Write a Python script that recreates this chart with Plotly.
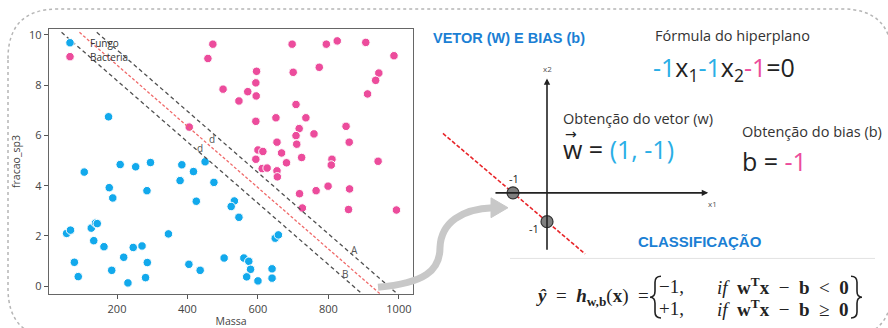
import plotly.graph_objects as go

W, H = 888, 328

# ---------------- data ----------------
fungo_massa = [176, 107, 209, 253, 295, 384, 417, 450, 379, 475, 178, 188, 285, 425, 533, 524, 546,
               57, 68, 127, 139, 144, 134, 163, 346, 219, 246, 271, 286, 79, 90, 185, 231, 281, 404,
               436, 504, 560, 574, 579, 568, 600, 640, 640, 649, 658]
fungo_sp3 = [6.74, 4.54, 4.84, 4.75, 4.92, 4.83, 4.56, 4.95, 4.20, 4.13, 3.92, 3.51, 3.80, 3.38, 3.39, 3.17, 2.74,
             2.10, 2.23, 2.31, 2.51, 2.49, 1.81, 1.57, 2.08, 1.15, 1.54, 1.60, 0.94, 0.95, 0.38, 0.63, 0.13, 0.34, 0.87,
             0.63, 1.12, 1.12, 0.99, 0.67, 0.37, 0.21, 0.69, 0.32, 1.91, 2.04]

bact_massa = [472, 458, 501, 546, 571, 596, 594, 595, 405, 594, 651, 697, 700, 708, 736, 717, 708, 710, 724,
              759, 654, 667, 681, 600, 614, 594, 612, 626, 654, 655, 718, 726, 765, 799, 774, 794, 825, 906,
              986, 943, 934, 911, 850, 859, 810, 808, 860, 857, 941, 993]
bact_sp3 = [9.63, 9.06, 7.84, 7.37, 7.74, 8.55, 8.09, 7.57, 6.33, 6.56, 6.70, 9.63, 8.51, 7.23, 6.70, 6.27, 5.99,
            5.65, 5.12, 6.06, 5.73, 5.30, 4.91, 5.42, 5.36, 5.05, 4.68, 4.70, 4.59, 4.35, 3.68, 3.11, 3.80, 3.98,
            8.71, 9.63, 9.76, 9.70, 9.17, 8.48, 8.19, 7.65, 6.36, 5.73, 5.05, 4.82, 3.87, 3.05, 4.97, 3.03]

# margin / hyperplane lines in the scatter: y = intercept + slope * x
line_slope = -0.0122
line_intercepts = [10.62, 11.24, 11.84]       # lower margin (B), hyperplane, upper margin (A)
line_styles = ["margin", "hyper", "margin"]
line_y_span = [10.1, -0.4]

# small labels on the scatter
label_text = ["d", "d", "A", "B"]
label_x = [469, 436, 875, 847]
label_y = [5.85, 5.5, 1.45, 0.5]

x_ticks = [200, 400, 600, 800, 1000]
y_ticks = [0, 2, 4, 6, 8, 10]

# hyperplane diagram: w1*x1 + w2*x2 + b = 0  ->  -1*x1 - 1*x2 - 1 = 0
w = (-1, -1)
bias = -1
diag_x1_span = [-3.06, 1.12]
diag_axis_x1 = [-1.56, 4.74]
diag_axis_x2 = [-2.03, 3.97]
cross_x1 = [-1, 0]
cross_x2 = [0, -1]

BLUE = "#12a9ec"
PINK = "#ec4c9c"
VAL_BLUE = "#2aaee6"
TITLE_BLUE = "#1b7fd4"
SANS = "Open Sans, Arial, sans-serif"
SERIF = "Liberation Serif, DejaVu Serif, serif"


def px(x):
    return x / W


def py(y):
    return 1 - y / H


fig = go.Figure()

# ---------------- scatter panel ----------------
fig.add_trace(go.Scatter(x=fungo_massa, y=fungo_sp3, mode="markers", name="Fungo", legend="legend",
                         marker=dict(color=BLUE, size=8.5, line=dict(color="white", width=1)),
                         xaxis="x", yaxis="y"))
fig.add_trace(go.Scatter(x=bact_massa, y=bact_sp3, mode="markers", name="Bacteria", legend="legend2",
                         marker=dict(color=PINK, size=8.5, line=dict(color="white", width=1)),
                         xaxis="x", yaxis="y"))

for b0, st in zip(line_intercepts, line_styles):
    ys = line_y_span
    xs = [(yy - b0) / line_slope for yy in ys]
    if st == "hyper":
        ln = dict(color="#f06a6a", width=1.3, dash="3px,2px")
    else:
        ln = dict(color="#505050", width=1.3, dash="4px,3px")
    fig.add_trace(go.Scatter(x=xs, y=ys, mode="lines", line=ln, showlegend=False,
                             hoverinfo="skip", xaxis="x", yaxis="y"))

for t, lx, ly in zip(label_text, label_x, label_y):
    fig.add_annotation(x=lx, y=ly, xref="x", yref="y", text=t, showarrow=False,
                       font=dict(family=SANS, size=10, color="#555555"))

# ---------------- hyperplane diagram ----------------
fig.add_annotation(x=diag_axis_x1[1], y=0, ax=diag_axis_x1[0], ay=0, xref="x2", yref="y2",
                   axref="x2", ayref="y2", text="", showarrow=True, arrowhead=2, arrowsize=0.8,
                   arrowwidth=1.6, arrowcolor="#222222")
fig.add_annotation(x=0, y=diag_axis_x2[1], ax=0, ay=diag_axis_x2[0], xref="x2", yref="y2",
                   axref="x2", ayref="y2", text="", showarrow=True, arrowhead=2, arrowsize=0.8,
                   arrowwidth=1.6, arrowcolor="#222222")
line_x2 = [-(w[0] * v + bias) / w[1] for v in diag_x1_span]
fig.add_trace(go.Scatter(x=diag_x1_span, y=line_x2, mode="lines",
                         line=dict(color="#e8262a", width=1.6, dash="4px,2px"),
                         showlegend=False, hoverinfo="skip", xaxis="x2", yaxis="y2"))
fig.add_trace(go.Scatter(x=cross_x1, y=cross_x2, mode="markers",
                         marker=dict(color="#7f7f7f", size=12, line=dict(color="#333333", width=1.2)),
                         showlegend=False, hoverinfo="skip", xaxis="x2", yaxis="y2"))
fig.add_annotation(x=cross_x1[0], y=cross_x2[0], xref="x2", yref="y2", text="-1", showarrow=False,
                   yshift=14, xshift=1, font=dict(family=SANS, size=11, color="#222"))
fig.add_annotation(x=cross_x1[1], y=cross_x2[1], xref="x2", yref="y2", text="-1", showarrow=False,
                   yshift=-7, xshift=-13, font=dict(family=SANS, size=11, color="#222"))
fig.add_annotation(x=0, y=diag_axis_x2[1], xref="x2", yref="y2", text="x2", showarrow=False,
                   yshift=10, font=dict(family=SANS, size=8, color="#555"))
fig.add_annotation(x=diag_axis_x1[1], y=0, xref="x2", yref="y2", text="x1", showarrow=False,
                   yshift=-11, xshift=4, font=dict(family=SANS, size=8, color="#555"))


# ---------------- texts on the right ----------------
def txt(x, y, text, size, color="#333333", family=SANS, xanchor="left", yanchor="middle"):
    fig.add_annotation(x=px(x), y=py(y), xref="paper", yref="paper", text=text, showarrow=False,
                       xanchor=xanchor, yanchor=yanchor, align="left",
                       font=dict(family=family, size=size, color=color))


txt(431, 36, "<b>VETOR (W) E BIAS (b)</b>", 14.5, TITLE_BLUE,
    family="Liberation Sans Narrow, Liberation Sans, Arial")
txt(653, 34, "Fórmula do hiperplano", 14.5, "#333333")
eq = (f"<span style='color:{VAL_BLUE}'>-1</span>x<sub>1</sub>"
      f"<span style='color:{VAL_BLUE}'>-1</span>x<sub>2</sub>"
      f"<span style='color:{PINK}'>-1</span>=0")
txt(651, 67, eq, 25, "#222222")
txt(561, 117, "Obtenção do vetor (w)", 14.5, "#333333")
txt(561, 148, f"w = <span style='color:{VAL_BLUE}'>(1, -1)</span>", 25, "#222222")
txt(571, 133, "→", 14, "#222222", family="DejaVu Sans", xanchor="center")
txt(740, 130, "Obtenção do bias (b)", 14.5, "#333333")
txt(740, 160, f"b = <span style='color:{PINK}'>-1</span>", 25, "#222222")
txt(636, 241, "<b>CLASSIFICAÇÃO</b>", 15, TITLE_BLUE, family="Liberation Sans, Arial")

# classification formula
txt(651, 297, "<b><i>ŷ</i></b>&nbsp; =&nbsp; <b><i>h</i></b><sub><b>w,b</b></sub>(<b>x</b>)&nbsp; =",
    19, "#222", SERIF, xanchor="right")
txt(657, 286, "−1,", 19, "#222", SERIF)
txt(657, 308, "+1,", 19, "#222", SERIF)
row_lt = "<i>if</i>&nbsp; <b>w</b><sup><b>T</b></sup><b>x</b>&nbsp; −&nbsp; <b>b</b>&nbsp; &lt;&nbsp; <b>0</b>"
row_ge = "<i>if</i>&nbsp; <b>w</b><sup><b>T</b></sup><b>x</b>&nbsp; −&nbsp; <b>b</b>&nbsp; ≥&nbsp; <b>0</b>"
txt(715, 286, row_lt, 19, "#222", SERIF)
txt(715, 308, row_ge, 19, "#222", SERIF)


# ---------------- decorative shapes ----------------
def P(x, y):
    return f"{px(x):.5f},{py(y):.5f}"


# braces of the piecewise formula
lbrace = (f"M {P(661, 276)} Q {P(655, 276)} {P(655, 282)} L {P(655, 291)} Q {P(655, 297)} {P(650, 297)} "
          f"Q {P(655, 297)} {P(655, 303)} L {P(655, 312)} Q {P(655, 318)} {P(661, 318)}")
rbrace = (f"M {P(851, 276)} Q {P(857, 276)} {P(857, 282)} L {P(857, 291)} Q {P(857, 297)} {P(862, 297)} "
          f"Q {P(857, 297)} {P(857, 303)} L {P(857, 312)} Q {P(857, 318)} {P(851, 318)}")
for pth in (lbrace, rbrace):
    fig.add_shape(type="path", path=pth, xref="paper", yref="paper", line=dict(color="#222", width=1.6))

# outer rounded dotted container
r = 50
L, T, R, B = 8, 7, 892, 338
border = (f"M {P(L, T + r)} Q {P(L, T)} {P(L + r, T)} L {P(R - r, T)} Q {P(R, T)} {P(R, T + r)} "
          f"L {P(R, B - r)} Q {P(R, B)} {P(R - r, B)} L {P(L + r, B)} Q {P(L, B)} {P(L, B - r)} Z")
fig.add_shape(type="path", path=border, xref="paper", yref="paper",
              line=dict(color="#b5b5b5", width=1.5, dash="dot"), layer="below")

# formula box top line
fig.add_shape(type="line", x0=px(510), x1=px(875), y0=py(258), y1=py(258), xref="paper", yref="paper",
              line=dict(color="#e2e2e2", width=1))

# gray curved arrow
arrow = f"M {P(378, 287)} C {P(425, 283)} {P(440, 270)} {P(440, 247)} C {P(441, 222)} {P(462, 208)} {P(493, 207)}"
fig.add_shape(type="path", path=arrow, xref="paper", yref="paper",
              line=dict(color="#c8c8c8", width=7))
head = f"M {P(491, 197)} L {P(508, 207)} L {P(491, 217)} Z"
fig.add_shape(type="path", path=head, xref="paper", yref="paper",
              line=dict(color="#c8c8c8", width=1), fillcolor="#c8c8c8")

# ---------------- layout ----------------
axis_font = dict(family=SANS, size=11, color="#444444")
title_font = dict(family=SANS, size=10.5, color="#444444")
leg_font = dict(family=SANS, size=10, color="#333333")
fig.update_layout(
    width=W, height=H, margin=dict(l=0, r=0, t=0, b=0),
    paper_bgcolor="white", plot_bgcolor="white",
    showlegend=True,
    legend=dict(x=px(50), y=py(41), xanchor="left", yanchor="middle", bgcolor="rgba(0,0,0,0)",
                font=leg_font, itemwidth=30),
    legend2=dict(x=px(50), y=py(55), xanchor="left", yanchor="middle", bgcolor="rgba(0,0,0,0)",
                 font=leg_font, itemwidth=30),
    xaxis=dict(domain=[px(49), px(413)], range=[7, 1040], tickvals=x_ticks, ticks="outside", ticklen=4,
               tickcolor="#555", showline=True, mirror=True, linecolor="#666666", linewidth=1.3,
               showgrid=False, zeroline=False, tickfont=axis_font,
               title=dict(text="Massa", font=title_font, standoff=3)),
    yaxis=dict(domain=[py(294), py(27)], range=[-0.32, 10.24], tickvals=y_ticks, ticks="outside", ticklen=4,
               tickcolor="#555", showline=True, mirror=True, linecolor="#666666", linewidth=1.3,
               showgrid=False, zeroline=False, tickfont=axis_font,
               title=dict(text="fracao_sp3", font=title_font, standoff=6)),
    xaxis2=dict(domain=[px(440), px(720)], range=[(440 - 547) / 34, (720 - 547) / 34], visible=False,
                anchor="y2"),
    yaxis2=dict(domain=[py(262), py(60)], range=[(192 - 262) / 29, (192 - 60) / 29], visible=False,
                anchor="x2"),
)

fig.write_html("out.html", config={"displayModeBar": False},
               post_script="document.body.style.margin='0px';")
